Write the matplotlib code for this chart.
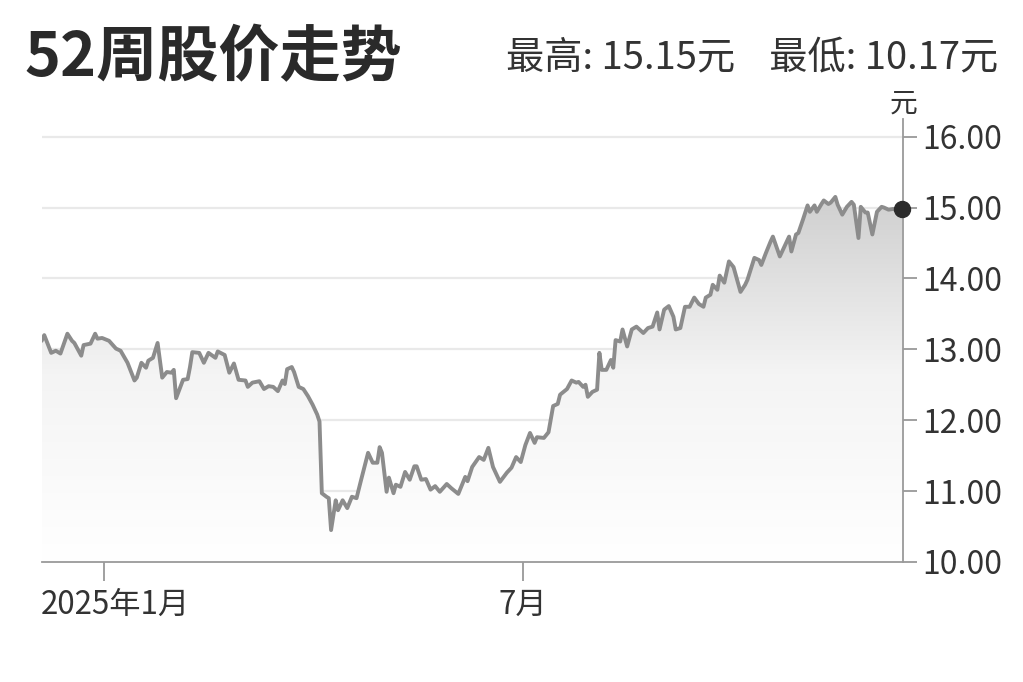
import numpy as np
import pandas as pd
import matplotlib
matplotlib.use('Agg')
import matplotlib.pyplot as plt
import matplotlib.dates as mdates
import matplotlib.transforms as mtransforms
from matplotlib.colors import LinearSegmentedColormap
from matplotlib.patches import Polygon

plt.rcParams['font.family'] = ['Noto Sans CJK SC', 'DejaVu Sans']

# values
dates = [
    '2024-12-05', '2024-12-06', '2024-12-09', '2024-12-11', '2024-12-13', '2024-12-16',
    '2024-12-18', '2024-12-19', '2024-12-22', '2024-12-23', '2024-12-26', '2024-12-28',
    '2024-12-29', '2024-12-31', '2025-01-03', '2025-01-06', '2025-01-08', '2025-01-11',
    '2025-01-14', '2025-01-15', '2025-01-17', '2025-01-19', '2025-01-20', '2025-01-22',
    '2025-01-24', '2025-01-26', '2025-01-28', '2025-01-30', '2025-01-31', '2025-02-01',
    '2025-02-04', '2025-02-06', '2025-02-07', '2025-02-08', '2025-02-11', '2025-02-13',
    '2025-02-15', '2025-02-18', '2025-02-19', '2025-02-22', '2025-02-24', '2025-02-26',
    '2025-02-28', '2025-03-03', '2025-03-04', '2025-03-06', '2025-03-09', '2025-03-11',
    '2025-03-13', '2025-03-15', '2025-03-17', '2025-03-19', '2025-03-20', '2025-03-21',
    '2025-03-23', '2025-03-24', '2025-03-26', '2025-03-28', '2025-03-30', '2025-04-01',
    '2025-04-03', '2025-04-04', '2025-04-05', '2025-04-07', '2025-04-08', '2025-04-09',
    '2025-04-11', '2025-04-12', '2025-04-14', '2025-04-16', '2025-04-18', '2025-04-20',
    '2025-04-22', '2025-04-25', '2025-04-27', '2025-04-29', '2025-04-30', '2025-05-01',
    '2025-05-03', '2025-05-04', '2025-05-06', '2025-05-07', '2025-05-09', '2025-05-11',
    '2025-05-13', '2025-05-15', '2025-05-16', '2025-05-18', '2025-05-20', '2025-05-22',
    '2025-05-24', '2025-05-26', '2025-05-29', '2025-05-31', '2025-06-03', '2025-06-06',
    '2025-06-07', '2025-06-09', '2025-06-12', '2025-06-14', '2025-06-16', '2025-06-18',
    '2025-06-21', '2025-06-24', '2025-06-26', '2025-06-28', '2025-06-30', '2025-07-02',
    '2025-07-04', '2025-07-06', '2025-07-07', '2025-07-10', '2025-07-12', '2025-07-14',
    '2025-07-16', '2025-07-17', '2025-07-20', '2025-07-22', '2025-07-24', '2025-07-25',
    '2025-07-27', '2025-07-28', '2025-07-29', '2025-07-31', '2025-08-02', '2025-08-03',
    '2025-08-04', '2025-08-06', '2025-08-08', '2025-08-09', '2025-08-10', '2025-08-12',
    '2025-08-13', '2025-08-15', '2025-08-17', '2025-08-19', '2025-08-22', '2025-08-24',
    '2025-08-26', '2025-08-28', '2025-08-29', '2025-08-31', '2025-09-02', '2025-09-04',
    '2025-09-05', '2025-09-07', '2025-09-09', '2025-09-11', '2025-09-13', '2025-09-15',
    '2025-09-17', '2025-09-18', '2025-09-20', '2025-09-21', '2025-09-23', '2025-09-24',
    '2025-09-26', '2025-09-28', '2025-09-30', '2025-10-03', '2025-10-05', '2025-10-06',
    '2025-10-09', '2025-10-11', '2025-10-12', '2025-10-14', '2025-10-16', '2025-10-17',
    '2025-10-20', '2025-10-24', '2025-10-25', '2025-10-27', '2025-10-28', '2025-10-30',
    '2025-11-01', '2025-11-02', '2025-11-04', '2025-11-05', '2025-11-07', '2025-11-08',
    '2025-11-10', '2025-11-11', '2025-11-13', '2025-11-14', '2025-11-16', '2025-11-18',
    '2025-11-20', '2025-11-21', '2025-11-23', '2025-11-24', '2025-11-26', '2025-11-27',
    '2025-11-29', '2025-12-01', '2025-12-03', '2025-12-04', '2025-12-06', '2025-12-08',
    '2025-12-10', '2025-12-11', '2025-12-12',
]
prices = [
    13.13, 13.20, 12.95, 12.98, 12.94, 13.22,
    13.12, 13.09, 12.91, 13.06, 13.08, 13.22,
    13.15, 13.16, 13.12, 13.01, 12.98, 12.81,
    12.56, 12.60, 12.81, 12.74, 12.84, 12.88,
    13.09, 12.60, 12.68, 12.67, 12.71, 12.31,
    12.57, 12.58, 12.75, 12.96, 12.95, 12.81,
    12.95, 12.88, 12.97, 12.92, 12.67, 12.80,
    12.57, 12.56, 12.47, 12.53, 12.55, 12.44,
    12.48, 12.47, 12.41, 12.56, 12.51, 12.72,
    12.75, 12.68, 12.47, 12.44, 12.34, 12.22,
    12.08, 11.98, 10.97, 10.92, 10.90, 10.45,
    10.87, 10.73, 10.87, 10.76, 10.92, 10.90,
    11.16, 11.54, 11.40, 11.40, 11.62, 11.54,
    10.99, 11.19, 10.97, 11.09, 11.06, 11.27,
    11.16, 11.35, 11.35, 11.16, 11.17, 11.02,
    11.07, 10.99, 11.10, 11.04, 10.96, 11.20,
    11.14, 11.34, 11.48, 11.44, 11.61, 11.34,
    11.13, 11.26, 11.33, 11.48, 11.41, 11.65,
    11.82, 11.68, 11.76, 11.75, 11.83, 12.20,
    12.23, 12.36, 12.44, 12.56, 12.53, 12.54,
    12.47, 12.50, 12.33, 12.40, 12.43, 12.95,
    12.71, 12.71, 12.85, 12.74, 13.13, 13.11,
    13.28, 13.04, 13.28, 13.32, 13.23, 13.30,
    13.32, 13.52, 13.28, 13.56, 13.61, 13.46,
    13.28, 13.30, 13.60, 13.60, 13.73, 13.64,
    13.60, 13.73, 13.77, 13.91, 13.84, 14.04,
    13.94, 14.24, 14.16, 13.81, 13.91, 13.98,
    14.29, 14.26, 14.19, 14.36, 14.52, 14.59,
    14.31, 14.59, 14.38, 14.62, 14.64, 14.83,
    15.03, 14.94, 15.03, 14.94, 15.05, 15.10,
    15.05, 15.07, 15.15, 15.04, 14.90, 15.01,
    15.08, 15.04, 14.57, 15.01, 14.93, 14.93,
    14.62, 14.94, 15.01, 15.00, 14.97, 14.98,
    14.96, 15.00, 14.98,
]

y_ticks = [10, 11, 12, 13, 14, 15, 16]
x_ticks = ['2025-01-01', '2025-07-01']
x_tick_labels = ['2025年1月', '7月']
title = '52周股价走势'
summary = '最高: 15.15元    最低: 10.17元'

x = mdates.date2num(pd.to_datetime(dates))
y = np.array(prices)

fig = plt.figure(figsize=(10.23, 6.82), dpi=100)
ax = fig.add_axes([0.041, 0.176, 0.8418, 0.6496])

y_lo, y_hi = 10, 16.25
x_lo = x[0]
x_hi = x[-1] + 0.3

# gradient fill under the line
cmap = LinearSegmentedColormap.from_list('g', ['#ffffff', '#f4f4f4', '#cdcdcd'])
grad = np.linspace(0, 1, 256).reshape(-1, 1)
img = ax.imshow(grad, cmap=cmap, origin='lower', aspect='auto',
                extent=[x_lo, x_hi, y_lo, 15.3], zorder=1)
poly = Polygon(np.column_stack([np.r_[x[0], x, x[-1]], np.r_[y_lo, y, y_lo]]),
               closed=True, facecolor='none', edgecolor='none')
ax.add_patch(poly)
img.set_clip_path(poly)

for v in y_ticks[1:]:
    ax.axhline(v, color='#e9e9e9', lw=1.6, zorder=0)

ax.plot(x, y, color='#8c8c8c', lw=2.8, zorder=3, solid_joinstyle='round')
ax.plot(x[-1], y[-1], 'o', color='#2b2b2b', ms=11.5, zorder=5, clip_on=False)

ax.set_xlim(x_lo, x_hi)
ax.set_ylim(y_lo, y_hi)

ax.yaxis.tick_right()
ax.set_yticks(y_ticks)
ax.set_yticklabels([f'{v:.2f}' for v in y_ticks])
ax.set_xticks(mdates.date2num(pd.to_datetime(x_ticks)))
ax.set_xticklabels(x_tick_labels)

ax.tick_params(axis='y', length=10, width=1.3, color='#999999', labelsize=23,
               labelcolor='#333333', pad=4)
ax.tick_params(axis='x', length=14, width=1.3, color='#999999', labelsize=22.5,
               labelcolor='#333333', pad=5)

# first month label sits inside the left edge in the reference
first = ax.get_xticklabels()[0]
first.set_transform(first.get_transform() +
                    mtransforms.ScaledTranslation(0.11, 0, fig.dpi_scale_trans))

for s in ['top', 'left']:
    ax.spines[s].set_visible(False)
for s in ['bottom', 'right']:
    ax.spines[s].set_color('#9a9a9a')
    ax.spines[s].set_linewidth(1.3)
ax.set_facecolor('none')

fig.text(0.024, 0.914, title, fontsize=44, fontweight='bold', color='#2a2a2a',
         ha='left', va='center')
fig.text(0.976, 0.914, summary, fontsize=27.5, color='#333333', ha='right', va='center')
fig.text(0.883, 0.848, '元', fontsize=20, color='#333333', ha='center', va='center')

fig.savefig('out.png', dpi=100, facecolor='white')
